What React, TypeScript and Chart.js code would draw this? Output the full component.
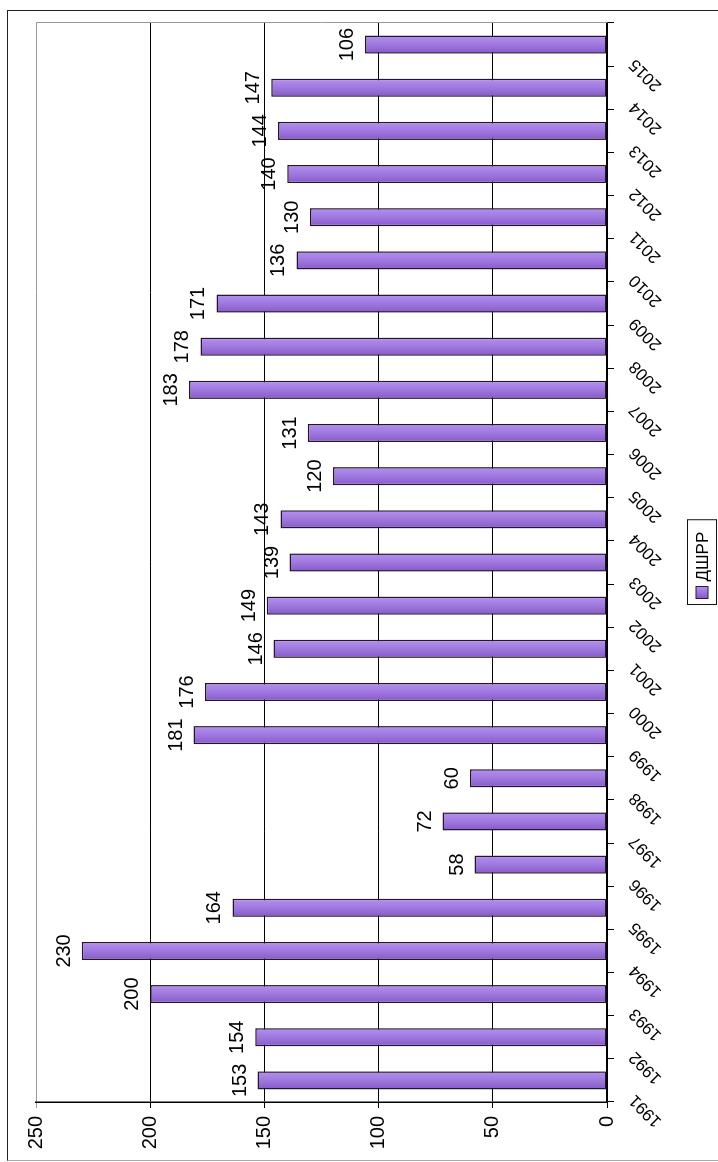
import React, { useEffect, useRef } from "react";
import { Chart, registerables } from "chart.js";

Chart.register(...registerables);

const years: string[] = [
  "1991", "1992", "1993", "1994", "1995", "1996", "1997", "1998", "1999", "2000",
  "2001", "2002", "2003", "2004", "2005", "2006", "2007", "2008", "2009", "2010",
  "2011", "2012", "2013", "2014", "2015",
];
const values: number[] = [
  153, 154, 200, 230, 164, 58, 72, 60, 181, 176,
  146, 149, 139, 143, 120, 131, 183, 178, 171, 136,
  130, 140, 144, 147, 106,
];
const seriesLabel = "ДШРР";
const valueTicks: number[] = [0, 50, 100, 150, 200, 250];

const FONT = '"Liberation Sans", Arial, sans-serif';
const BAR_PCT = 0.42;
const C_DARK = "#8659C8";
const C_MID = "#9F78DF";
const C_LIGHT = "#B491EE";

const dataLabelPlugin = {
  id: "dataLabels",
  afterDatasetsDraw(chart: any) {
    const ctx = chart.ctx;
    const meta = chart.getDatasetMeta(0);
    ctx.save();
    ctx.font = `20px ${FONT}`;
    ctx.fillStyle = "#000";
    ctx.textAlign = "center";
    ctx.textBaseline = "alphabetic";
    meta.data.forEach((el: any, i: number) => {
      ctx.fillText(String(chart.data.datasets[0].data[i]), el.x, el.y - 12);
    });
    ctx.restore();
  },
};

const plotBorderPlugin = {
  id: "plotBorder",
  beforeDatasetsDraw(chart: any) {
    const { ctx, chartArea } = chart;
    ctx.save();
    ctx.strokeStyle = "#9a9a9a";
    ctx.lineWidth = 1;
    ctx.beginPath();
    ctx.moveTo(chartArea.right + 0.5, chartArea.top);
    ctx.lineTo(chartArea.right + 0.5, chartArea.bottom);
    ctx.stroke();
    ctx.restore();
  },
};

const legendPlugin = {
  id: "boxLegend",
  afterDraw(chart: any) {
    const { ctx, chartArea } = chart;
    const text = chart.data.datasets[0].label as string;
    ctx.save();
    ctx.font = `17px ${FONT}`;
    const tw = ctx.measureText(text).width;
    const padL = 6, box = 12, gap = 5, padR = 12, h = 29;
    const w = padL + box + gap + tw + padR;
    const cx = (chartArea.left + chartArea.right) / 2;
    const left = Math.round(cx - w / 2) + 0.5;
    const top = chartArea.bottom + 80.5;
    ctx.fillStyle = "#fff";
    ctx.fillRect(left, top, w, h);
    ctx.strokeStyle = "#111";
    ctx.lineWidth = 1;
    ctx.strokeRect(left, top, w, h);
    const my = top + h / 2;
    const g = ctx.createLinearGradient(left + padL, 0, left + padL + box, 0);
    g.addColorStop(0, C_DARK);
    g.addColorStop(1, C_LIGHT);
    ctx.fillStyle = g;
    ctx.fillRect(left + padL, my - box / 2, box, box);
    ctx.strokeStyle = "#2a1a3a";
    ctx.strokeRect(left + padL, my - box / 2, box, box);
    ctx.fillStyle = "#000";
    ctx.textAlign = "left";
    ctx.textBaseline = "middle";
    ctx.fillText(text, left + padL + box + gap, my + 1);
    ctx.restore();
  },
};

export default function App() {
  const ref = useRef<HTMLCanvasElement | null>(null);

  useEffect(() => {
    if (!ref.current) return;
    const chart = new Chart(ref.current, {
      type: "bar",
      data: {
        labels: years,
        datasets: [
          {
            label: seriesLabel,
            data: values,
            backgroundColor: (c: any) => {
              const ch = c.chart;
              const xs = ch.scales && ch.scales.x;
              if (!xs || c.dataIndex === undefined || !ch.chartArea) return C_MID;
              const x = xs.getPixelForValue(c.dataIndex);
              const hw = ((xs.width / years.length) * BAR_PCT) / 2;
              const g = ch.ctx.createLinearGradient(x - hw, 0, x + hw, 0);
              g.addColorStop(0, C_DARK);
              g.addColorStop(0.5, C_MID);
              g.addColorStop(1, C_LIGHT);
              return g;
            },
            borderColor: "#24162f",
            borderWidth: 1.5,
            borderSkipped: false,
            barPercentage: BAR_PCT,
            categoryPercentage: 1,
          },
        ],
      },
      options: {
        responsive: false,
        animation: false,
        devicePixelRatio: 1,
        layout: { padding: { left: 0, top: 36, right: 23, bottom: 51 } },
        plugins: {
          legend: { display: false },
          tooltip: { enabled: false },
          title: { display: false },
        },
        scales: {
          x: {
            type: "category",
            offset: true,
            grid: {
              offset: true,
              drawOnChartArea: false,
              drawTicks: true,
              tickLength: 7,
              color: "#000",
              lineWidth: 1,
            },
            border: { display: true, color: "#000", width: 1.5 },
            ticks: {
              autoSkip: false,
              minRotation: 45,
              maxRotation: 45,
              labelOffset: -17,
              padding: 11,
              color: "#000",
              font: { family: FONT, size: 17 },
            },
            afterFit: (s: any) => {
              s.height = 60;
            },
          },
          y: {
            min: 0,
            max: 250,
            afterBuildTicks: (s: any) => {
              s.ticks = valueTicks.map((v) => ({ value: v }));
            },
            grid: {
              color: (c: any) => (c.tick && c.tick.value === 250 ? "#9a9a9a" : "#000"),
              lineWidth: 1,
              drawTicks: true,
              tickLength: 6,
            },
            border: { display: true, color: "#000", width: 1.5 },
            ticks: {
              padding: 8,
              color: "#000",
              font: { family: FONT, size: 20 },
            },
            afterFit: (s: any) => {
              s.width = 60;
            },
          },
        },
      },
      plugins: [plotBorderPlugin, dataLabelPlugin, legendPlugin],
    } as any);
    return () => chart.destroy();
  }, []);

  return (
    <div
      style={{
        position: "fixed",
        left: 0,
        top: 0,
        width: 718,
        height: 1162,
        overflow: "hidden",
        background: "#fff",
      }}
    >
      <div
        style={{
          position: "absolute",
          left: 0,
          top: 0,
          width: 1162,
          height: 718,
          transformOrigin: "0 0",
          transform: "translateY(1162px) rotate(-90deg)",
        }}
      >
        <div
          style={{
            position: "absolute",
            left: 1,
            top: 7,
            width: 1151,
            height: 740,
            boxSizing: "border-box",
            borderTop: "1.5px solid #222",
            borderRight: "1.5px solid #222",
            borderLeft: "1px solid #aaa",
          }}
        />
        <canvas
          ref={ref}
          width={1162}
          height={718}
          style={{ position: "absolute", left: 0, top: 0, width: 1162, height: 718 }}
        />
      </div>
    </div>
  );
}
